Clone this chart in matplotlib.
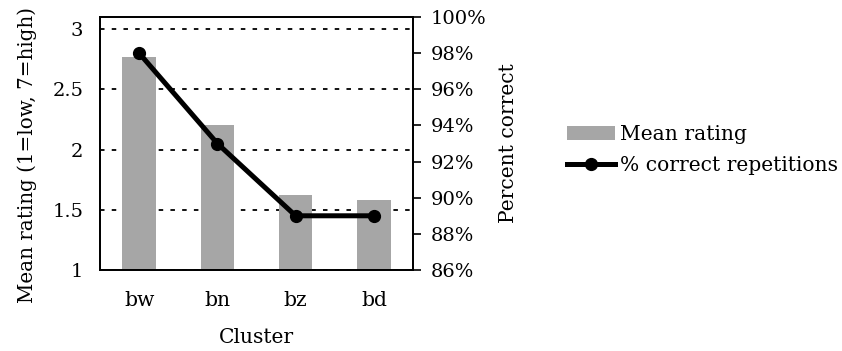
import matplotlib
matplotlib.use("Agg")
import matplotlib.pyplot as plt
from matplotlib.ticker import FuncFormatter, MultipleLocator

clusters = ["bw", "bn", "bz", "bd"]
mean_rating = [2.77, 2.20, 1.62, 1.58]
pct_correct = [98, 93, 89, 89]

plt.rcParams['font.family'] = ['DejaVu Serif']
fs_tick = 14
fs_lab = 14.6

fig = plt.figure(figsize=(8.42, 3.51), dpi=100)
ax = fig.add_axes([100/842, 81/351, 313/842, 253/351])
x = list(range(len(clusters)))
bars = ax.bar(x, mean_rating, width=0.43, color="#a6a6a6", zorder=2, label="Mean rating")
ax.set_ylim(1, 3.1)
ax.set_xlim(-0.5, 3.5)
ax.set_yticks([1, 1.5, 2, 2.5, 3])
ax.set_yticklabels(["1", "1.5", "2", "2.5", "3"])
ax.yaxis.grid(True, color="black", linestyle=(0, (2.5, 4)), linewidth=1.3, zorder=0)
ax.set_axisbelow(True)
ax.set_xticks(x)
ax.set_xticklabels(clusters)
ax.tick_params(axis="y", length=0, labelsize=fs_tick, pad=12)
ax.tick_params(axis="x", length=0, labelsize=fs_lab, pad=15)
ax.set_xlabel("Cluster", fontsize=fs_lab, labelpad=13)
for s in ax.spines.values():
    s.set_linewidth(1.3)

fig.text(27/842, 1 - 155/351, "Mean rating (1=low, 7=high)", rotation=90,
         ha="center", va="center", fontsize=14.3)

ax2 = ax.twinx()
line, = ax2.plot(x, pct_correct, color="black", linewidth=3.6, marker="o", markersize=8.5, zorder=3,
                 label="% correct repetitions")
ax2.set_ylim(86, 100)
ax2.yaxis.set_major_locator(MultipleLocator(2))
ax2.yaxis.set_major_formatter(FuncFormatter(lambda v, p: f"{v:.0f}%"))
ax2.tick_params(axis="y", length=5.5, width=1.2, direction="out", labelsize=fs_tick, pad=7)
ax2.set_ylabel("Percent correct", fontsize=fs_lab, labelpad=9)
for s in ax2.spines.values():
    s.set_linewidth(1.3)

fig.legend([bars, line], ["Mean rating", "% correct repetitions"], loc="center left",
           bbox_to_anchor=(559/842, 1 - 150/351), frameon=False, fontsize=fs_lab,
           handlelength=2.35, handletextpad=0.25, labelspacing=0.6, borderaxespad=0)

fig.savefig("out.png", dpi=100)
